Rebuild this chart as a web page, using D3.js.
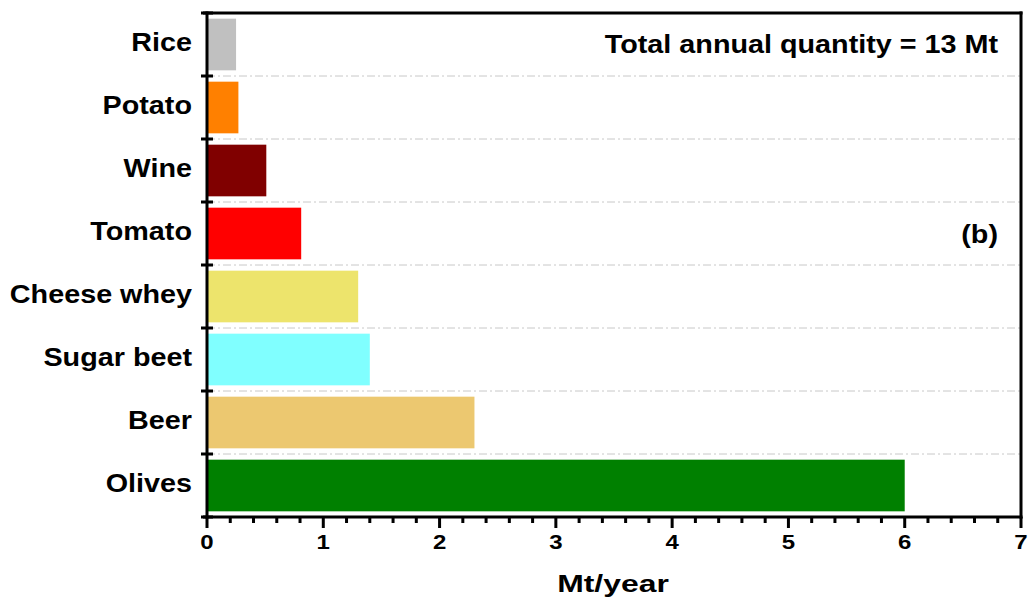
<!DOCTYPE html>
<html>
<head>
<meta charset="utf-8">
<script src="https://cdn.jsdelivr.net/npm/d3@7"></script>
<style>
  body { margin: 0; background: #fff; }
  svg { display: block; font-family: "Liberation Sans", Arial, sans-serif; font-weight: bold; }
</style>
</head>
<body>
<svg id="chart" width="1030" height="601"></svg>
<script>
// Annual quantity of food-industry waste streams (Mt/year)
const categories = ["Rice", "Potato", "Wine", "Tomato", "Cheese whey", "Sugar beet", "Beer", "Olives"];
const values = [0.25, 0.27, 0.51, 0.81, 1.30, 1.40, 2.30, 6.00];
const colors = ["#c0c0c0", "#ff8000", "#800000", "#ff0000", "#ede46c", "#80ffff", "#ecc870", "#008000"];
const xTicks = [0, 1, 2, 3, 4, 5, 6, 7];
const xTitle = "Mt/year";
const totalNote = "Total annual quantity = 13 Mt";
const panelTag = "(b)";

const svg = d3.select("#chart");
const m = { left: 207, right: 1021, top: 13, bottom: 517 };
const stretch = 1.15; // wide bold lettering

const x = d3.scaleLinear().domain([0, 7]).range([m.left, m.right]);
const y = d3.scaleBand().domain(categories).range([m.top, m.bottom]).paddingInner(0.18).paddingOuter(0.09);

// band boundaries for gridlines and y ticks
const bounds = d3.range(categories.length + 1).map(i => m.top + i * (m.bottom - m.top) / categories.length);

// wide text helper: anchored at (tx, ty), stretched horizontally
function wideText(g, tx, ty, size, anchor, str, sx) {
  return g.append("text")
    .attr("transform", `translate(${tx},${ty}) scale(${sx || stretch},1)`)
    .attr("text-anchor", anchor).attr("font-size", size).attr("fill", "#000")
    .text(str);
}

// dashed gridlines
svg.append("g").selectAll("line").data(bounds.slice(1, -1)).join("line")
  .attr("x1", m.left).attr("x2", m.right)
  .attr("y1", d => d).attr("y2", d => d)
  .attr("stroke", "#c8c8c8").attr("stroke-width", 1)
  .attr("stroke-dasharray", "8,3,2,3");

// bars
svg.append("g").selectAll("rect").data(categories).join("rect")
  .attr("x", x(0))
  .attr("y", d => y(d))
  .attr("width", (d, i) => x(values[i]) - x(0))
  .attr("height", y.bandwidth())
  .attr("fill", (d, i) => colors[i]);

// frame
const ax = svg.append("g").attr("stroke", "#000").attr("stroke-width", 3).attr("fill", "none");
ax.append("line").attr("x1", m.left - 4).attr("x2", m.right + 1.5).attr("y1", m.bottom).attr("y2", m.bottom);
ax.append("line").attr("x1", m.left).attr("x2", m.left).attr("y1", m.top - 1.5).attr("y2", m.bottom + 1.5);
ax.append("line").attr("x1", m.left - 4).attr("x2", m.right + 1.5).attr("y1", m.top).attr("y2", m.top);
ax.append("line").attr("x1", m.right).attr("x2", m.right).attr("y1", m.top - 1.5).attr("y2", m.bottom + 1.5);

// y ticks at band boundaries (crossing the axis)
ax.selectAll(".yt").data(bounds).join("line")
  .attr("x1", m.left - 6).attr("x2", m.left + 6)
  .attr("y1", d => d).attr("y2", d => d);

// x major and minor ticks
ax.selectAll(".xt").data(xTicks).join("line")
  .attr("x1", d => x(d)).attr("x2", d => x(d))
  .attr("y1", m.bottom).attr("y2", m.bottom + 11);
const minor = d3.range(0, 7.001, 0.2).filter(v => Math.abs(v - Math.round(v)) > 1e-6);
ax.selectAll(".xm").data(minor).join("line")
  .attr("x1", d => x(d)).attr("x2", d => x(d))
  .attr("y1", m.bottom).attr("y2", m.bottom + 6);

// x tick labels
const xl = svg.append("g");
xTicks.forEach(d => wideText(xl, x(d), m.bottom + 32, 20, "middle", d, 1.2));

// category labels
const yl = svg.append("g");
categories.forEach(c => wideText(yl, 192, y(c) + y.bandwidth() / 2 + 6, 25, "end", c));

// axis title
wideText(svg, 613, 592, 24, "middle", xTitle, 1.33);

// annotations
wideText(svg, 998, 53, 25, "end", totalNote);
wideText(svg, 998, 243, 25, "end", panelTag);
</script>
</body>
</html>
